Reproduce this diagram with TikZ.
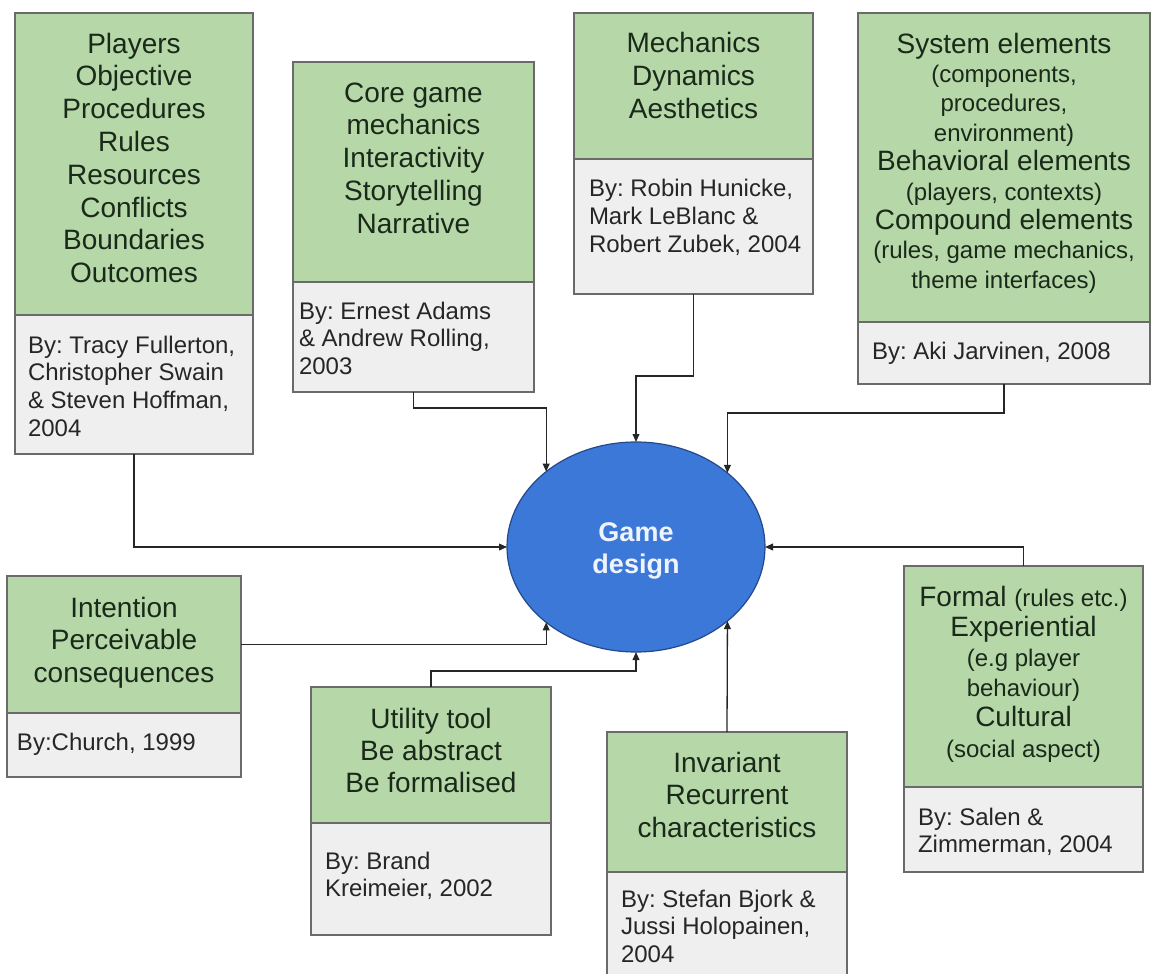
\documentclass[tikz,border=0pt]{standalone}
\usepackage{fontspec}
\setmainfont{Liberation Sans}
\usetikzlibrary{shapes.geometric,arrows.meta}
\definecolor{boxgreen}{HTML}{B6D7A8}
\definecolor{boxgray}{HTML}{EFEFEF}
\definecolor{boxline}{HTML}{6A6A6A}
\definecolor{ovalblue}{HTML}{3C78D8}
\definecolor{ovalline}{HTML}{24488A}
\definecolor{inktext}{HTML}{1A2A1A}
\frenchspacing
% strut that fixes the height of a block's first line
\newcommand\fl{\rule{0pt}{0.8em}}
% smaller type for the bracketed remarks
\newcommand\sm[1]{{\fontsize{12}{14}\selectfont #1}}

\begin{document}
\begin{tikzpicture}[x=0.5pt,y=-0.5pt,
  part/.style={draw=boxline, line width=0.7pt, inner sep=0pt, outer sep=0pt, anchor=north west},
  toppart/.style={part, fill=boxgreen},
  bypart/.style={part, fill=boxgray},
  headtext/.style={anchor=north, align=center, inner sep=0pt, outer sep=0pt, text=inktext,
    font=\fontsize{14}{16.4}\selectfont},
  bytext/.style={anchor=north west, align=left, inner sep=0pt, outer sep=0pt, text=black!85,
    font=\fontsize{12}{13.85}\selectfont},
  link/.style={draw=black!85, line width=0.65pt, -{Triangle[length=4pt,width=3.4pt]}}]

\useasboundingbox (0,0) rectangle (1152,974);
\begin{scope}
\clip (0,0) rectangle (1152,974);

% Fullerton, Swain & Hoffman
\node[toppart, minimum width=119pt, minimum height=151pt] (g1) at (15,13) {};
\node[bypart, minimum width=119pt, minimum height=69.5pt] (b1) at (15,315) {};
\node[headtext] (t1) at (134,30.6) {\fl Players\\Objective\\Procedures\\Rules\\Resources\\Conflicts\\Boundaries\\Outcomes};
\node[bytext] (a1) at (28,333.8) {\fl By: Tracy Fullerton,\\Christopher Swain\\\& Steven Hoffman,\\2004};

% Adams & Rolling
\node[toppart, minimum width=120.5pt, minimum height=110pt] (g2) at (293,62) {};
\node[bypart, minimum width=120.5pt, minimum height=55pt] (b2) at (293,282) {};
\node[headtext] (t2) at (413.5,79.6) {\fl Core game\\mechanics\\Interactivity\\Storytelling\\Narrative};
\node[bytext] (a2) at (299,299.8) {\fl By: Ernest Adams\\\& Andrew Rolling,\\2003};

% Hunicke, LeBlanc & Zubek
\node[toppart, minimum width=119.5pt, minimum height=73pt] (g3) at (574,13) {};
\node[bypart, minimum width=119.5pt, minimum height=67.5pt] (b3) at (574,159) {};
\node[headtext] (t3) at (693.5,30.6) {\fl Mechanics\\Dynamics\\Aesthetics};
\node[bytext] (a3) at (589,177.8) {\fl By: Robin Hunicke,\\Mark LeBlanc \&\\Robert Zubek, 2004};

% Jarvinen
\node[toppart, minimum width=146pt, minimum height=154.5pt] (g4) at (858,13) {};
\node[bypart, minimum width=146pt, minimum height=31pt] (b4) at (858,322) {};
\node[headtext, font=\fontsize{14}{14.7}\selectfont] (t4) at (1004,30.6)
  {\fl System elements\\\sm{(components,}\\\sm{procedures,}\\\sm{environment)}\\
   Behavioral elements\\\sm{(players, contexts)}\\Compound elements\\
   \sm{(rules, game mechanics,}\\\sm{theme interfaces)}};
\node[bytext] (a4) at (872,339.8) {\fl By: Aki Jarvinen, 2008};

% Church
\node[toppart, minimum width=117pt, minimum height=68.5pt] (g5) at (7,576) {};
\node[bypart, minimum width=117pt, minimum height=32pt] (b5) at (7,713) {};
\node[headtext] (t5) at (124,594.6) {\fl Intention\\Perceivable\\consequences};
\node[bytext] (a5) at (17,730.8) {\fl By:Church, 1999};

% Kreimeier
\node[toppart, minimum width=120pt, minimum height=68pt] (g6) at (311,687) {};
\node[bypart, minimum width=120pt, minimum height=56pt] (b6) at (311,823) {};
\node[headtext, font=\fontsize{14}{16}\selectfont] (t6) at (431,705.6) {\fl Utility tool\\Be abstract\\Be formalised};
\node[bytext] (a6) at (325,849.8) {\fl By: Brand\\Kreimeier, 2002};

% Bjork & Holopainen
\node[toppart, minimum width=120pt, minimum height=70pt] (g7) at (607,732) {};
\node[bypart, minimum width=120pt, minimum height=58pt] (b7) at (607,872) {};
\node[headtext] (t7) at (727,749.6) {\fl Invariant\\Recurrent\\characteristics};
\node[bytext] (a7) at (621,887.8) {\fl By: Stefan Bjork \&\\Jussi Holopainen,\\2004};

% Salen & Zimmerman
\node[toppart, minimum width=119.5pt, minimum height=110.5pt] (g8) at (904,566) {};
\node[bypart, minimum width=119.5pt, minimum height=42.5pt] (b8) at (904,787) {};
\node[headtext, font=\fontsize{14}{15.1}\selectfont] (t8) at (1023.5,583.6)
  {\fl Formal \sm{(rules etc.)}\\Experiential\\\sm{(e.g player}\\\sm{behaviour)}\\Cultural\\\sm{(social aspect)}};
\node[bytext] (a8) at (918,805.8) {\fl By: Salen \&\\Zimmerman, 2004};

% central oval and its label
\node[ellipse, draw=ovalline, line width=0.6pt, fill=ovalblue, inner sep=0pt, outer sep=0pt,
  minimum width=129pt, minimum height=105pt] (gd) at (636,547) {};
\node[align=center, inner sep=0pt, text=white!92!ovalblue,
  font=\bfseries\fontsize{13.5}{16}\selectfont] (gdt) at (636,551) {Game\\design};

% connectors into the oval
\draw[link] (b1.south) |- (gd.west);
\draw[link] (b2.south) -- ++(0,16) -| (gd.140.2);
\draw[link] (b3.south) -- ++(0,82) -| (gd.north);
\draw[link] (b4.south) -- ++(0,29) -| (gd.39.3);
\draw[link] (g8.north) |- (gd.east);
\draw[link] (g7.north) -- (gd.-39.3);
\draw[link] (g6.north) -- ++(0,-16) -| (gd.south);
\draw[link] (g5.east) -| (gd.220.5);
\end{scope}
\end{tikzpicture}
\end{document}
